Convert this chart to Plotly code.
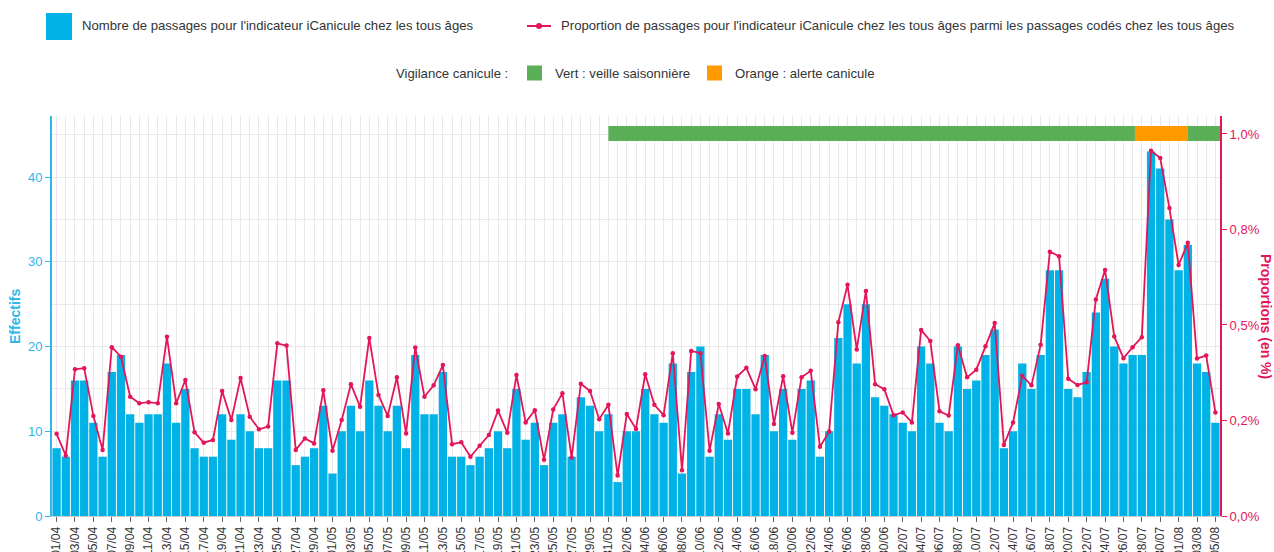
import pandas as pd
import plotly.graph_objects as go

# ---- data ----
dates = [d.strftime("%d/%m") for d in pd.date_range("2023-04-01", "2023-08-05", freq="D")]

passages_avr = [8, 7, 16, 16, 11, 7, 17, 19, 12, 11, 12, 12, 18, 11, 15, 8, 7, 7, 12, 9,
                12, 10, 8, 8, 16, 16, 6, 7, 8, 13]
passages_mai = [5, 10, 13, 10, 16, 13, 10, 13, 8, 19, 12, 12, 17, 7, 7, 6, 7, 8, 10, 8,
                15, 9, 11, 6, 11, 12, 7, 14, 13, 10, 12]
passages_juin = [4, 10, 10, 15, 12, 11, 18, 5, 17, 20, 7, 12, 9, 15, 15, 12, 19, 10, 15, 9,
                 15, 16, 7, 10, 21, 25, 18, 25, 14, 13]
passages_juil = [12, 11, 10, 20, 18, 11, 10, 20, 15, 16, 19, 22, 8, 10, 18, 15, 19, 29, 29, 15,
                 14, 17, 24, 28, 20, 18, 19, 19, 43, 41, 35]
passages_aout = [29, 32, 18, 17, 11]

prop_avr = [0.215, 0.158, 0.384, 0.387, 0.262, 0.173, 0.442, 0.417, 0.312, 0.295, 0.298, 0.295,
            0.469, 0.295, 0.356, 0.219, 0.192, 0.199, 0.327, 0.251, 0.361, 0.260, 0.227, 0.234,
            0.452, 0.446, 0.173, 0.203, 0.190, 0.329]
prop_mai = [0.171, 0.251, 0.345, 0.286, 0.466, 0.317, 0.262, 0.363, 0.216, 0.441, 0.312, 0.342,
            0.395, 0.188, 0.193, 0.155, 0.184, 0.212, 0.276, 0.218, 0.369, 0.245, 0.277, 0.147,
            0.279, 0.321, 0.153, 0.346, 0.327, 0.253, 0.291]
prop_juin = [0.106, 0.267, 0.228, 0.371, 0.291, 0.264, 0.426, 0.120, 0.432, 0.426, 0.171, 0.293,
             0.216, 0.365, 0.388, 0.332, 0.419, 0.241, 0.366, 0.218, 0.363, 0.380, 0.181, 0.221,
             0.507, 0.605, 0.436, 0.589, 0.345, 0.332]
prop_juil = [0.264, 0.271, 0.245, 0.487, 0.458, 0.274, 0.263, 0.447, 0.363, 0.383, 0.444, 0.505,
             0.186, 0.245, 0.367, 0.342, 0.448, 0.692, 0.680, 0.359, 0.343, 0.350, 0.567, 0.644,
             0.470, 0.413, 0.442, 0.468, 0.956, 0.937, 0.806]
prop_aout = [0.657, 0.715, 0.412, 0.420, 0.271]

passages = passages_avr + passages_mai + passages_juin + passages_juil + passages_aout
proportions = prop_avr + prop_mai + prop_juin + prop_juil + prop_aout

# vigilance periods (start/end day positions on the axis)
vigilance_starts = [60, 117.25, 123]
vigilance_ends = [117.25, 123, 126.5]
vigilance_levels = ["vert", "orange", "vert"]

right_ticks = [0, 0.25, 0.5, 0.75, 1.0]
right_ticktext = ["0,0%", "0,2%", "0,5%", "0,8%", "1,0%"]

# ---- style ----
BLUE = "#00B2E5"
BLUE_TXT = "#2FB6EA"
PINK = "#E3165B"
GREEN = "#5BAF57"
ORANGE = "#FF9A00"
FONT = "Liberation Sans, Arial, sans-serif"
W, H = 1274, 552
L, R, T, B = 52, 54, 116, 36
PW, PH = W - L - R, H - T - B


def px(x):
    return (x - L) / PW


def py(y):
    return (H - B - y) / PH


idx = list(range(len(dates)))

fig = go.Figure()
fig.add_trace(go.Bar(x=idx, y=passages, marker=dict(color=BLUE, line=dict(width=0)),
                     name="Nombre de passages", yaxis="y", hoverinfo="x+y"))
fig.add_trace(go.Scatter(x=idx, y=proportions, mode="lines+markers", yaxis="y2",
                         line=dict(color=PINK, width=1.8),
                         marker=dict(color=PINK, size=4.5), name="Proportion"))

shapes = []
colors = {"vert": GREEN, "orange": ORANGE}
for s, e, lv in zip(vigilance_starts, vigilance_ends, vigilance_levels):
    shapes.append(dict(type="rect", xref="x", yref="paper", x0=s, x1=e,
                       y0=py(141), y1=py(126), fillcolor=colors[lv],
                       line=dict(width=0), layer="above"))

# legend (manual)
shapes.append(dict(type="rect", xref="paper", yref="paper", x0=px(46), x1=px(72),
                   y0=py(40), y1=py(13), fillcolor=BLUE, line=dict(width=0)))
shapes.append(dict(type="line", xref="paper", yref="paper", x0=px(527), x1=px(551),
                   y0=py(26), y1=py(26), line=dict(color=PINK, width=2)))
shapes.append(dict(type="circle", xref="paper", yref="paper", x0=px(536), x1=px(542),
                   y0=py(29), y1=py(23), fillcolor=PINK, line=dict(width=0)))
shapes.append(dict(type="rect", xref="paper", yref="paper", x0=px(527), x1=px(542),
                   y0=py(80.5), y1=py(65.5), fillcolor=GREEN, line=dict(width=0)))
shapes.append(dict(type="rect", xref="paper", yref="paper", x0=px(707), x1=px(722),
                   y0=py(80.5), y1=py(65.5), fillcolor=ORANGE, line=dict(width=0)))

annots = []


def txt(t, x, y, anchor="left", **kw):
    annots.append(dict(text=t, xref="paper", yref="paper", x=px(x), y=py(y),
                       xanchor=anchor, yanchor="middle", showarrow=False,
                       font=dict(family=FONT, size=13.15, color="#333333"), **kw))


txt("Nombre de passages pour l'indicateur iCanicule chez les tous âges", 80, 26)
txt("Proportion de passages pour l'indicateur iCanicule chez les tous âges parmi les passages codés chez les tous âges", 559, 26)
txt("Vigilance canicule :", 510, 73, anchor="right")
txt("Vert : veille saisonnière", 553, 73)
txt("Orange : alerte canicule", 733, 73)

annots.append(dict(text="<b>Effectifs</b>", xref="paper", yref="paper", x=px(15), y=py(317),
                   xanchor="center", yanchor="middle", textangle=-90, showarrow=False,
                   font=dict(family=FONT, size=14, color=BLUE_TXT)))
annots.append(dict(text="<b>Proportions (en %)</b>", xref="paper", yref="paper", x=px(1266), y=py(316),
                   xanchor="center", yanchor="middle", textangle=90, showarrow=False,
                   font=dict(family=FONT, size=14, color=PINK)))

fig.update_layout(
    width=W, height=H,
    margin=dict(l=L, r=R, t=T, b=B, autoexpand=False),
    paper_bgcolor="white", plot_bgcolor="white",
    showlegend=False, bargap=0.1,
    font=dict(family=FONT, size=13, color="#333333"),
    shapes=shapes, annotations=annots,
    xaxis=dict(range=[-0.5, len(dates) - 0.5], tickmode="array",
               tickvals=idx[::2], ticktext=dates[::2], tickangle=-90,
               ticks="outside", ticklen=5, tickcolor="#666666",
               tickfont=dict(family=FONT, size=12, color="#333333"),
               showgrid=True, gridcolor="#e9e9e9", gridwidth=1,
               minor=dict(tickmode="linear", tick0=1, dtick=2, showgrid=True,
                          gridcolor="#e9e9e9", gridwidth=1, ticks=""),
               showline=True, linecolor="#cccccc", linewidth=1,
               zeroline=False, automargin=False, fixedrange=True),
    yaxis=dict(range=[0, 47.2], tickmode="linear", tick0=0, dtick=10,
               ticks="outside", ticklen=5, tickcolor=BLUE_TXT,
               tickfont=dict(family=FONT, size=13, color=BLUE_TXT),
               showgrid=True, gridcolor="#e9e9e9",
               minor=dict(tickmode="linear", tick0=5, dtick=10, showgrid=True,
                          gridcolor="#e9e9e9", ticks=""),
               showline=True, linecolor=BLUE_TXT, linewidth=2,
               zeroline=False, automargin=False),
    yaxis2=dict(range=[0, 1.047], overlaying="y", side="right", anchor="x",
                tickmode="array", tickvals=right_ticks, ticktext=right_ticktext,
                ticks="outside", ticklen=5, tickcolor=PINK,
                tickfont=dict(family=FONT, size=13, color=PINK),
                showgrid=False, showline=True, linecolor=PINK, linewidth=2,
                zeroline=False, automargin=False),
)

fig.write_html("out.html", config={"displayModeBar": False},
               post_script="document.body.style.margin='0';")
